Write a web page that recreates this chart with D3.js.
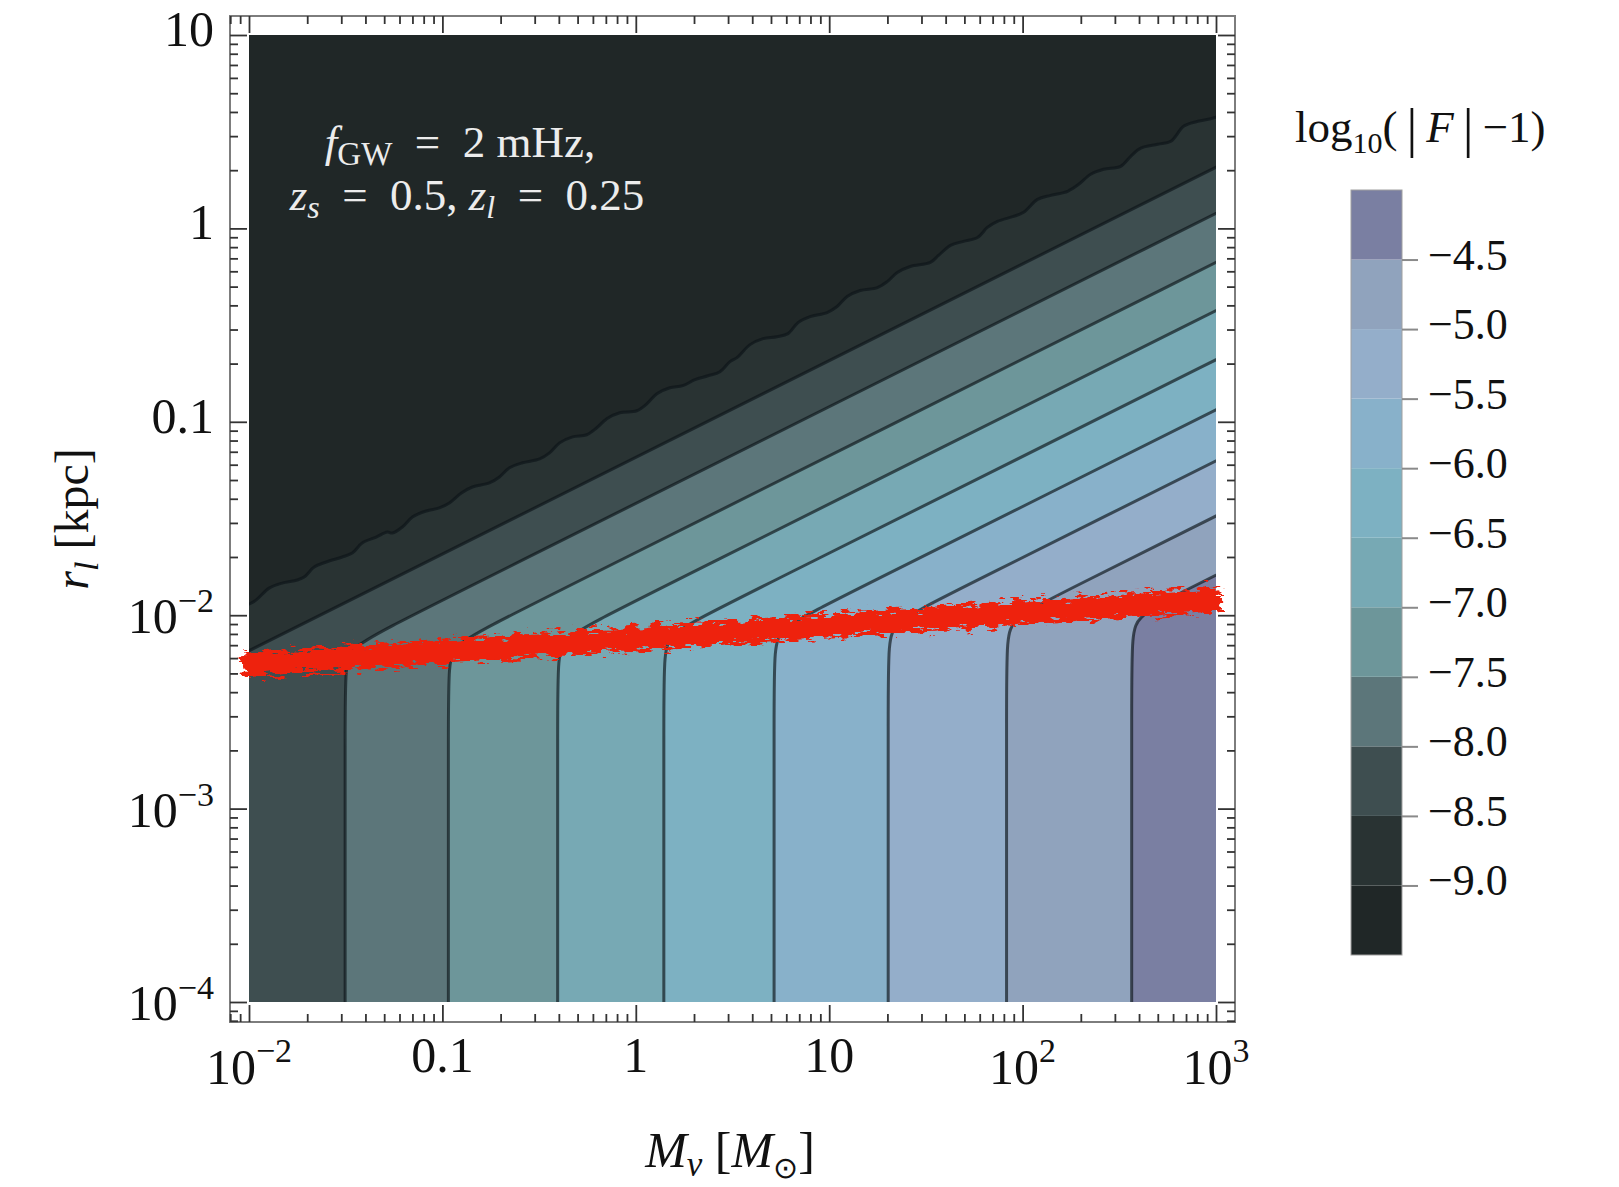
<!DOCTYPE html>
<html>
<head>
<meta charset="utf-8">
<script src="https://cdn.jsdelivr.net/npm/d3@7"></script>
<style>
  body { margin: 0; background: #fff; }
  text { font-family: "Liberation Serif", "Times New Roman", serif; fill: #111; }
</style>
</head>
<body>
<svg id="chart" width="1619" height="1187"></svg>
<script>
// Contour levels of log10(|F| - 1)
const levels = [-9.0, -8.5, -8.0, -7.5, -7.0, -6.5, -6.0, -5.5, -5.0, -4.5];
// Fill colour of each band: below -9.0, between consecutive levels, above -4.5
const bandColors = ["#202727", "#293333", "#3e4e50", "#5c767a", "#6d969a", "#77a9b4",
                    "#7db1c2", "#88b1ca", "#94aeca", "#90a3bd", "#7a7fa2"];
// log10(M_v) where each contour runs vertically at small r_l (null: left of the plotted range)
const verticalLogM = [null, null, -1.503, -0.969, -0.404, 0.145, 0.715, 1.305, 1.917, 2.564];
// log10(r_l) where each straight contour reaches M_v = 10^3
const diagonalLogR = [null, 0.316, 0.078, -0.176, -0.425, -0.679, -0.938, -1.202, -1.487, -1.793];
const diagonalSlope = 0.5;
// The ragged -9.0 contour (log10 M_v, log10 r_l)
const wavyLogM = [-2.010,-1.964,-1.896,-1.829,-1.751,-1.715,-1.663,-1.601,-1.518,-1.466,-1.415,-1.342,-1.285,-1.259,-1.207,-1.155,-1.083,-1.016,-0.964,-0.902,-0.845,-0.757,-0.705,-0.653,-0.586,-0.497,-0.446,-0.394,-0.327,-0.254,-0.202,-0.150,-0.083,0.005,0.057,0.109,0.176,0.243,0.306,0.373,0.435,0.487,0.523,0.591,0.658,0.730,0.787,0.839,0.901,0.989,1.041,1.093,1.160,1.249,1.300,1.352,1.419,1.523,1.565,1.627,1.694,1.767,1.818,1.870,1.953,2.005,2.077,2.145,2.233,2.290,2.352,2.419,2.507,2.559,2.611,2.699,2.767,2.834,2.906,3.000];
const wavyLogR = [-1.948,-1.922,-1.860,-1.834,-1.818,-1.803,-1.751,-1.725,-1.699,-1.679,-1.627,-1.596,-1.570,-1.575,-1.544,-1.492,-1.461,-1.445,-1.420,-1.368,-1.337,-1.316,-1.285,-1.238,-1.212,-1.192,-1.161,-1.109,-1.078,-1.067,-1.031,-0.984,-0.953,-0.943,-0.907,-0.855,-0.824,-0.813,-0.782,-0.762,-0.741,-0.689,-0.668,-0.601,-0.570,-0.560,-0.544,-0.487,-0.456,-0.435,-0.404,-0.352,-0.321,-0.306,-0.275,-0.228,-0.197,-0.176,-0.140,-0.088,-0.067,-0.047,0.005,0.036,0.062,0.083,0.150,0.171,0.192,0.228,0.280,0.306,0.321,0.373,0.415,0.435,0.451,0.529,0.554,0.575];
// Red band: end points (log10 M_v, log10 r_l)
const redLogM = [-2.036, 3.026];
const redLogR = [-2.259, -1.917];
// Tick labels
const xTickLabels = [
  { v: 1e-2, base: "10", exp: "\u22122" }, { v: 0.1, base: "0.1" }, { v: 1, base: "1" },
  { v: 10, base: "10" }, { v: 1e2, base: "10", exp: "2" }, { v: 1e3, base: "10", exp: "3" }
];
const yTickLabels = [
  { v: 1e-4, base: "10", exp: "\u22124" }, { v: 1e-3, base: "10", exp: "\u22123" },
  { v: 1e-2, base: "10", exp: "\u22122" }, { v: 0.1, base: "0.1" }, { v: 1, base: "1" },
  { v: 10, base: "10" }
];
const colorbarTicks = [-4.5, -5.0, -5.5, -6.0, -6.5, -7.0, -7.5, -8.0, -8.5, -9.0];
const colorbarRange = [-9.5, -4.0];

const svg = d3.select("#chart");
const frame = { x0: 230, x1: 1235, y0: 16, y1: 1022 };
const x = d3.scaleLog().domain([1e-2, 1e3]).range([249, 1216]);
const y = d3.scaleLog().domain([1e-4, 10]).range([1002, 35]);
const P = v => Math.pow(10, v);
const far = { mLo: -2.4, mHi: 3.4, rLo: -4.6 };
const EQ = "\u2002=\u2002";

const defs = svg.append("defs");
defs.append("clipPath").attr("id", "plotClip").append("rect")
  .attr("x", x(1e-2)).attr("y", y(10))
  .attr("width", x(1e3) - x(1e-2)).attr("height", y(1e-4) - y(10));
const rough = defs.append("filter").attr("id", "rough")
  .attr("filterUnits", "userSpaceOnUse")
  .attr("x", 180).attr("y", 520).attr("width", 1100).attr("height", 200);
rough.append("feTurbulence").attr("type", "fractalNoise")
  .attr("baseFrequency", "0.08 0.3").attr("numOctaves", 3).attr("seed", 7).attr("result", "noise");
rough.append("feDisplacementMap").attr("in", "SourceGraphic").attr("in2", "noise")
  .attr("scale", 20).attr("xChannelSelector", "R").attr("yChannelSelector", "G");

// Contour geometry in log space
function contourPoints(i) {
  if (i === 0) {
    const pts = wavyLogM.map((m, k) => [m, wavyLogR[k]]);
    return [[far.mLo, wavyLogR[0] - diagonalSlope * (wavyLogM[0] - far.mLo)], ...pts,
            [far.mHi, wavyLogR[wavyLogR.length - 1] + diagonalSlope * (far.mHi - 3)]];
  }
  const dR = diagonalLogR[i];
  const m = verticalLogM[i];
  if (m === null) {
    return [[far.mLo, dR - diagonalSlope * (3 - far.mLo)], [far.mHi, dR + diagonalSlope * (far.mHi - 3)]];
  }
  const rc = dR - diagonalSlope * (3 - m);
  return [[m, far.rLo], [m, rc - 0.15], [m, rc], [m + 0.3, rc + 0.15],
          [far.mHi, rc + diagonalSlope * (far.mHi - m)]];
}
const lineFor = i => d3.line()
  .x(d => x(P(d[0]))).y(d => y(P(d[1])))
  .curve(i === 0 ? d3.curveCatmullRom.alpha(0.5) : d3.curveBasis);

const plot = svg.append("g").attr("clip-path", "url(#plotClip)");
plot.append("rect")
  .attr("x", x(1e-2)).attr("y", y(10))
  .attr("width", x(1e3) - x(1e-2)).attr("height", y(1e-4) - y(10))
  .attr("fill", bandColors[0]);

levels.forEach((lv, i) => {
  const pts = contourPoints(i);
  const d = lineFor(i)(pts);
  const first = pts[0];
  const closing = `L${x(P(far.mHi))},${y(P(far.rLo))}L${x(P(first[0]))},${y(P(far.rLo))}Z`;
  plot.append("path").attr("d", d + closing).attr("fill", bandColors[i + 1]);
});
levels.forEach((lv, i) => {
  plot.append("path").attr("d", lineFor(i)(contourPoints(i)))
    .attr("fill", "none").attr("stroke", "rgba(12,20,24,0.66)").attr("stroke-width", 3);
});

// Red band
svg.append("path")
  .attr("d", d3.line().x(d => x(P(d[0]))).y(d => y(P(d[1])))(redLogM.map((m, k) => [m, redLogR[k]])))
  .attr("stroke", "#ee2010").attr("stroke-width", 24).attr("fill", "none")
  .attr("filter", "url(#rough)");

// Frame and ticks
svg.append("rect").attr("x", frame.x0).attr("y", frame.y0)
  .attr("width", frame.x1 - frame.x0).attr("height", frame.y1 - frame.y0)
  .attr("fill", "none").attr("stroke", "#7d7d7d").attr("stroke-width", 2);

const decades = d3.range(-5, 5).map(P);
const minors = d3.range(-5, 4).flatMap(d => d3.range(2, 10).map(k => k * P(d)));
const inX = v => x(v) >= frame.x0 - 0.5 && x(v) <= frame.x1 + 0.5;
const inY = v => y(v) >= frame.y0 - 0.5 && y(v) <= frame.y1 + 0.5;
function side(axisFn, scale, pos, filt) {
  [[decades, -17], [minors, -8]].forEach(([vals, len]) => {
    const g = svg.append("g").attr("transform", pos)
      .call(axisFn(scale).tickValues(vals.filter(filt)).tickSize(len).tickFormat(""));
    g.select(".domain").remove();
    g.selectAll("line").attr("stroke", "#333").attr("stroke-width", 1.8);
  });
}
side(d3.axisBottom, x, `translate(0,${frame.y1})`, inX);
side(d3.axisTop, x, `translate(0,${frame.y0})`, inX);
side(d3.axisLeft, y, `translate(${frame.x0},0)`, inY);
side(d3.axisRight, y, `translate(${frame.x1},0)`, inY);

// Tick labels
xTickLabels.forEach(t => {
  const tx = svg.append("text").attr("x", x(t.v)).attr("text-anchor", "middle")
    .attr("y", t.exp ? 1084 : 1072).style("font-size", "50px");
  tx.append("tspan").text(t.base);
  if (t.exp) tx.append("tspan").attr("dy", -22).style("font-size", "34px").text(t.exp);
});
yTickLabels.forEach(t => {
  const tx = svg.append("text").attr("x", 214).attr("text-anchor", "end")
    .attr("y", y(t.v) + (t.exp ? 18 : 11)).style("font-size", "50px");
  tx.append("tspan").text(t.base);
  if (t.exp) tx.append("tspan").attr("dy", -21).style("font-size", "34px").text(t.exp);
});

// Axis titles
const xt = svg.append("text").attr("x", 730).attr("y", 1167).attr("text-anchor", "middle")
  .style("font-size", "50px");
xt.append("tspan").style("font-style", "italic").text("M");
xt.append("tspan").style("font-style", "italic").style("font-size", "35px").attr("dy", 9).text("v");
xt.append("tspan").attr("dy", -9).text(" [");
xt.append("tspan").style("font-style", "italic").text("M");
xt.append("tspan").style("font-size", "30px").attr("dy", 11).text("\u2299");
xt.append("tspan").attr("dy", -11).text("]");

const yt = svg.append("text").attr("transform", "translate(88,519) rotate(-90)")
  .attr("text-anchor", "middle").style("font-size", "48px");
yt.append("tspan").style("font-style", "italic").text("r");
yt.append("tspan").style("font-style", "italic").style("font-size", "34px").attr("dy", 10).text("l");
yt.append("tspan").attr("dy", -10).text(" [kpc]");

// Parameters annotation
const ann = svg.append("g").style("font-size", "45px");
const a1 = ann.append("text").attr("x", 460).attr("y", 157).attr("text-anchor", "middle").style("fill", "#ececec");
a1.append("tspan").style("font-style", "italic").text("f");
a1.append("tspan").style("font-size", "33px").attr("dy", 8).text("GW");
a1.append("tspan").attr("dy", -8).text(EQ + "2 mHz,");
const a2 = ann.append("text").attr("x", 467).attr("y", 210).attr("text-anchor", "middle").style("fill", "#ececec");
a2.append("tspan").style("font-style", "italic").text("z");
a2.append("tspan").style("font-style", "italic").style("font-size", "32px").attr("dy", 8).text("s");
a2.append("tspan").attr("dy", -8).text(EQ + "0.5, ");
a2.append("tspan").style("font-style", "italic").text("z");
a2.append("tspan").style("font-style", "italic").style("font-size", "32px").attr("dy", 8).text("l");
a2.append("tspan").attr("dy", -8).text(EQ + "0.25");

// Colour bar
const cb = d3.scaleLinear().domain(colorbarRange).range([955, 190]);
const cbX = 1351, cbW = 51;
const cbg = svg.append("g");
bandColors.forEach((c, i) => {
  const lo = colorbarRange[0] + 0.5 * i, hi = lo + 0.5;
  cbg.append("rect").attr("x", cbX).attr("y", cb(hi)).attr("width", cbW)
    .attr("height", cb(lo) - cb(hi)).attr("fill", c);
});
cbg.append("rect").attr("x", cbX).attr("y", cb(colorbarRange[1])).attr("width", cbW)
  .attr("height", cb(colorbarRange[0]) - cb(colorbarRange[1]))
  .attr("fill", "none").attr("stroke", "#a0a0a0").attr("stroke-width", 1);
const cba = svg.append("g").attr("transform", `translate(${cbX + cbW},0)`)
  .call(d3.axisRight(cb).tickValues(colorbarTicks).tickSize(16).tickFormat(""));
cba.select(".domain").remove();
cba.selectAll("line").attr("stroke", "#8a8a8a").attr("stroke-width", 2);
colorbarTicks.forEach(v => {
  svg.append("text").attr("x", 1428).attr("y", cb(v) + 10).style("font-size", "44px")
    .text("\u2212" + Math.abs(v).toFixed(1));
});
const ct = svg.append("text").attr("x", 1295).attr("y", 142).style("font-size", "45px");
ct.append("tspan").text("log");
ct.append("tspan").style("font-size", "30px").attr("dy", 11).text("10");
ct.append("tspan").attr("dy", -11).text("(\u2009");
ct.append("tspan").style("font-size", "54px").attr("dy", 4).text("|");
ct.append("tspan").attr("dy", -4).text("\u2009");
ct.append("tspan").style("font-style", "italic").text("F");
ct.append("tspan").text("\u2009");
ct.append("tspan").style("font-size", "54px").attr("dy", 4).text("|");
ct.append("tspan").attr("dy", -4).text("\u2009\u22121)");
</script>
</body>
</html>
